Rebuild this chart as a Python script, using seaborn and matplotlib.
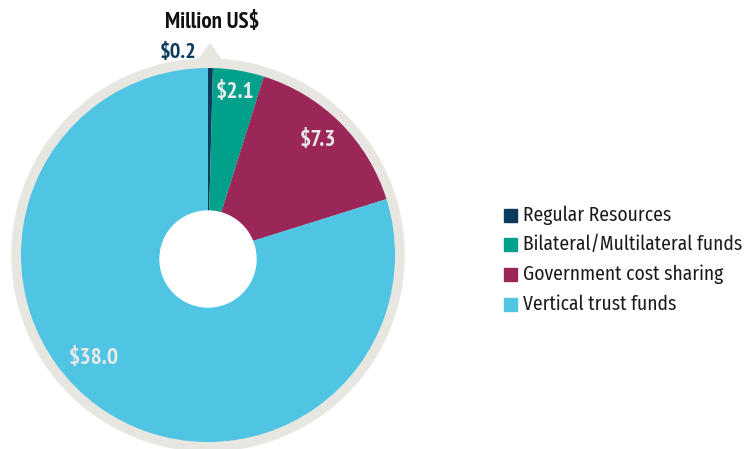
import matplotlib
matplotlib.use("Agg")
import matplotlib.pyplot as plt
from matplotlib.patches import Circle, Polygon, Rectangle
import seaborn as sns

# Funding sources (million US$)
categories = ["Regular Resources", "Bilateral/Multilateral funds",
              "Government cost sharing", "Vertical trust funds"]
values = [0.2, 2.1, 7.3, 38.0]
value_labels = ["$0.2", "$2.1", "$7.3", "$38.0"]
colors = ["#0d3b5e", "#00a08a", "#9b2759", "#4fc5e3"]

sns.set_theme(style="white")
plt.rcParams["font.family"] = ["PT Sans Narrow", "DejaVu Sans"]
legend_font = ["Fira Sans Condensed", "PT Sans Narrow", "DejaVu Sans"]

W, H = 753, 449
fig = plt.figure(figsize=(W / 100, H / 100), dpi=100)
ax = fig.add_axes([0, 0, 1, 1])

cx, cy, r = 208, H - 255, 187
ring = "#e8e6e1"

# grey backing ring with a small pointer at the top
ax.add_patch(Circle((cx, cy), 196, color=ring, zorder=1))
ax.add_patch(Polygon([(197, H - 62), (210, H - 44), (223, H - 62)],
                     closed=True, color=ring, zorder=1))

wedges, _ = ax.pie(values, colors=colors, startangle=90, counterclock=False,
                   center=(cx, cy), radius=r,
                   wedgeprops=dict(linewidth=0))
for w in wedges:
    w.set_zorder(2)

# centre hole
ax.add_patch(Circle((cx, H - 259), 48, color="white", zorder=3))

# value labels
lab_col = "#e9e9e9"
ax.text(235, H - 93, value_labels[1], ha="center", va="center", fontsize=17,
        color=lab_col, fontweight="bold", zorder=4)
ax.text(318, H - 140, value_labels[2], ha="center", va="center", fontsize=17,
        color=lab_col, fontweight="bold", zorder=4)
ax.text(94, H - 358, value_labels[3], ha="center", va="center", fontsize=17,
        color=lab_col, fontweight="bold", zorder=4)
ax.text(178, H - 53, value_labels[0], ha="center", va="center", fontsize=16,
        color=colors[0], fontweight="bold", zorder=4)
ax.text(212, H - 22, "Million US$", ha="center", va="center", fontsize=16.5,
        color="#111111", fontweight="bold", zorder=4)

# legend
ly = [215, 244, 274, 304]
for cat, col, y in zip(categories, colors, ly):
    ax.add_patch(Rectangle((504, H - y - 6.5), 13, 13, color=col, zorder=4))
    ax.text(523, H - y, cat, ha="left", va="center", fontsize=14,
            family=legend_font, color="#1a1a1a", zorder=4)

ax.set_xlim(0, W)
ax.set_ylim(0, H)
ax.set_aspect("equal")
ax.axis("off")

fig.savefig("out.png", dpi=100, facecolor="white")
